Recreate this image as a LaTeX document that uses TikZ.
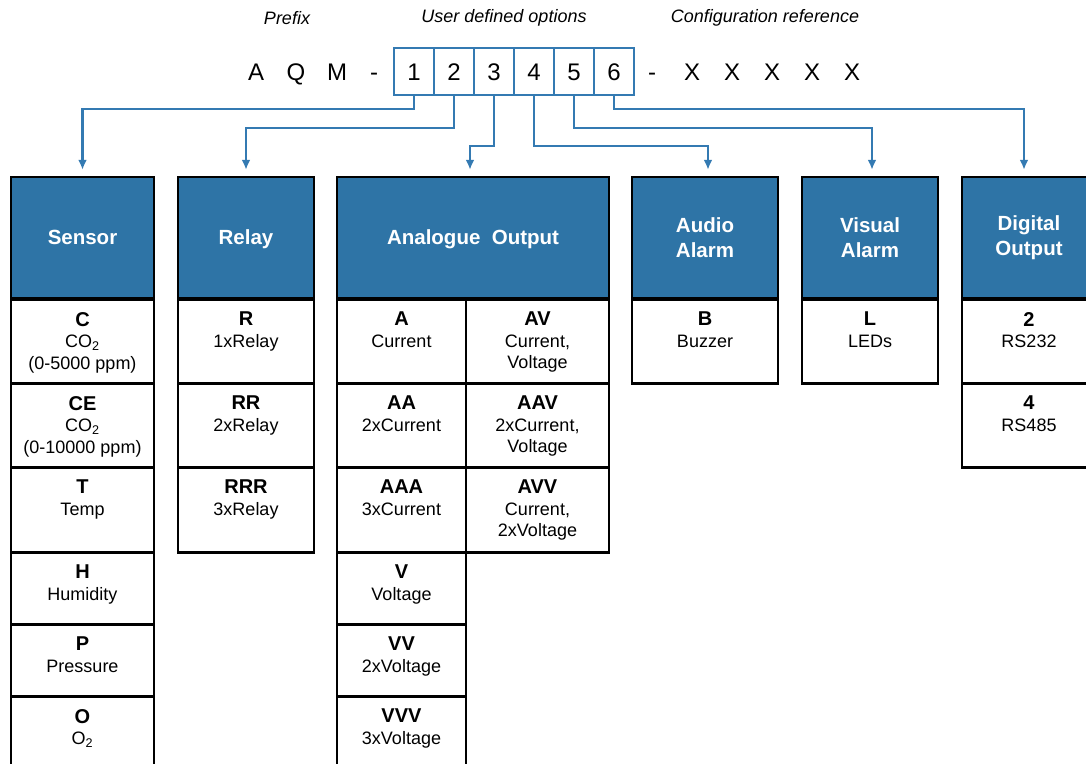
\documentclass[tikz,border=0pt]{standalone}
\usepackage{fontspec}
\setmainfont{Liberation Sans}
\usetikzlibrary{arrows.meta}
\definecolor{hdrblue}{RGB}{46,116,166}
\definecolor{linkblue}{RGB}{52,122,178}
\newcommand{\optcode}[1]{{\fontsize{20}{21.5}\selectfont\bfseries #1}}

\begin{document}
\begin{tikzpicture}[x=1pt, y=-1pt, hdr/.style={draw, line width=2.5pt, fill=hdrblue, text=white, minimum height=121pt, align=center, font=\fontsize{20.5}{25}\selectfont\bfseries}, one/.style={text height=14.7pt, text depth=0pt}, cell/.style={draw, line width=2.5pt, anchor=north}, txt/.style={anchor=north, align=center, inner sep=0pt, yshift=-14pt, font=\fontsize{18}{21.5}\selectfont}, digit/.style={draw=linkblue, line width=2pt, minimum width=40pt, minimum height=47pt, inner sep=0pt, text height=17.2pt, text depth=0pt, font=\fontsize{24}{24}\selectfont}, refchar/.style={inner sep=0pt, text height=17.2pt, text depth=0pt, font=\fontsize{24}{24}\selectfont}, hint/.style={font=\fontsize{18}{18}\selectfont\itshape}, conn/.style={-{Latex[length=10pt,width=9pt]}, draw=linkblue, line width=2.5pt, shorten >=6pt}]
            \useasboundingbox (0,0) rectangle (1086,763);
            % reference code
            \node[hint] (prefix) at (287,18) {Prefix};
            \node[hint] (user) at (504,18) {User defined options};
            \node[hint] (config) at (765,18) {Configuration reference};
            \node[refchar] (pA) at (256,71.5) {A};
            \node[refchar] (pQ) at (296,71.5) {Q};
            \node[refchar] (pM) at (337,71.5) {M};
            \node[refchar] (pdash) at (374,71.5) {-};
            \node[digit] (d1) at (414,71.5) {1};
            \node[digit] (d2) at (454,71.5) {2};
            \node[digit] (d3) at (494,71.5) {3};
            \node[digit] (d4) at (534,71.5) {4};
            \node[digit] (d5) at (574,71.5) {5};
            \node[digit] (d6) at (614,71.5) {6};
            \node[refchar] (sdash) at (652,71.5) {-};
            \node[refchar] (x1) at (692,71.5) {X};
            \node[refchar] (x2) at (732,71.5) {X};
            \node[refchar] (x3) at (772,71.5) {X};
            \node[refchar] (x4) at (812,71.5) {X};
            \node[refchar] (x5) at (852,71.5) {X};
            % headers
            \node[hdr, one, minimum width=143pt] (sensor) at (82.5,237.5) {Sensor};
            \node[hdr, one, minimum width=136pt] (relay) at (246,237.5) {Relay};
            \node[hdr, one, minimum width=272pt] (ao) at (473,237.5) {Analogue\ \ Output};
            \node[hdr, minimum width=146pt] (aa) at (705,237.5) {Audio\\Alarm};
            \node[hdr, minimum width=136pt] (va) at (870,237.5) {Visual\\Alarm};
            \node[hdr, minimum width=134pt] (dout) at (1029,237.5) {Digital\\Output};
            % sensor options
            \node[cell, minimum width=143pt, minimum height=84pt] (sC) at (82.5,298) {};
            \node[txt] (sCt) at (sC.north) {\optcode{C}\\CO\textsubscript{2}\\(0-5000 ppm)};
            \node[cell, minimum width=143pt, minimum height=84pt] (sCE) at (82.5,382) {};
            \node[txt] (sCEt) at (sCE.north) {\optcode{CE}\\CO\textsubscript{2}\\(0-10000 ppm)};
            \node[cell, minimum width=143pt, minimum height=85pt] (sT) at (82.5,466) {};
            \node[txt] (sTt) at (sT.north) {\optcode{T}\\Temp};
            \node[cell, minimum width=143pt, minimum height=72pt] (sH) at (82.5,551) {};
            \node[txt] (sHt) at (sH.north) {\optcode{H}\\Humidity};
            \node[cell, minimum width=143pt, minimum height=72pt] (sP) at (82.5,623) {};
            \node[txt] (sPt) at (sP.north) {\optcode{P}\\Pressure};
            \node[cell, minimum width=143pt, minimum height=76pt] (sO) at (82.5,695) {};
            \node[txt] (sOt) at (sO.north) {\optcode{O}\\O\textsubscript{2}};
            % relay options
            \node[cell, minimum width=136pt, minimum height=84pt] (rR) at (246,298) {};
            \node[txt] (rRt) at (rR.north) {\optcode{R}\\1xRelay};
            \node[cell, minimum width=136pt, minimum height=84pt] (rRR) at (246,382) {};
            \node[txt] (rRRt) at (rRR.north) {\optcode{RR}\\2xRelay};
            \node[cell, minimum width=136pt, minimum height=85pt] (rRRR) at (246,466) {};
            \node[txt] (rRRRt) at (rRRR.north) {\optcode{RRR}\\3xRelay};
            % analogue options
            \node[cell, minimum width=129pt, minimum height=84pt] (aA) at (401.5,298) {};
            \node[txt] (aAt) at (aA.north) {\optcode{A}\\Current};
            \node[cell, minimum width=129pt, minimum height=84pt] (aAA) at (401.5,382) {};
            \node[txt] (aAAt) at (aAA.north) {\optcode{AA}\\2xCurrent};
            \node[cell, minimum width=129pt, minimum height=85pt] (aAAA) at (401.5,466) {};
            \node[txt] (aAAAt) at (aAAA.north) {\optcode{AAA}\\3xCurrent};
            \node[cell, minimum width=129pt, minimum height=72pt] (aV) at (401.5,551) {};
            \node[txt] (aVt) at (aV.north) {\optcode{V}\\Voltage};
            \node[cell, minimum width=129pt, minimum height=72pt] (aVV) at (401.5,623) {};
            \node[txt] (aVVt) at (aVV.north) {\optcode{VV}\\2xVoltage};
            \node[cell, minimum width=129pt, minimum height=76pt] (aVVV) at (401.5,695) {};
            \node[txt] (aVVVt) at (aVVV.north) {\optcode{VVV}\\3xVoltage};
            \node[cell, minimum width=143pt, minimum height=84pt] (aAV) at (537.5,298) {};
            \node[txt] (aAVt) at (aAV.north) {\optcode{AV}\\Current,\\Voltage};
            \node[cell, minimum width=143pt, minimum height=84pt] (aAAV) at (537.5,382) {};
            \node[txt] (aAAVt) at (aAAV.north) {\optcode{AAV}\\2xCurrent,\\Voltage};
            \node[cell, minimum width=143pt, minimum height=85pt] (aAVV) at (537.5,466) {};
            \node[txt] (aAVVt) at (aAVV.north) {\optcode{AVV}\\Current,\\2xVoltage};
            % alarm and digital options
            \node[cell, minimum width=146pt, minimum height=84pt] (bB) at (705,298) {};
            \node[txt] (bBt) at (bB.north) {\optcode{B}\\Buzzer};
            \node[cell, minimum width=136pt, minimum height=84pt] (lL) at (870,298) {};
            \node[txt] (lLt) at (lL.north) {\optcode{L}\\LEDs};
            \node[cell, minimum width=134pt, minimum height=84pt] (o2) at (1029,298) {};
            \node[txt] (o2t) at (o2.north) {\optcode{2}\\RS232};
            \node[cell, minimum width=134pt, minimum height=84pt] (o4) at (1029,382) {};
            \node[txt] (o4t) at (o4.north) {\optcode{4}\\RS485};
            % edges
            \draw[conn] (d1.south) -- ++(0,13) -| (sensor.north);
            \draw[conn] (d2.south) -- ++(0,32) -| (relay.north);
            \draw[conn] (d3.south) -- ++(0,50) -| ([xshift=-3pt]ao.north);
            \draw[conn] (d4.south) -- ++(0,50) -| ([xshift=3pt]aa.north);
            \draw[conn] (d5.south) -- ++(0,32) -| ([xshift=2pt]va.north);
            \draw[conn] (d6.south) -- ++(0,13) -| ([xshift=-5pt]dout.north);
        \end{tikzpicture}
\end{document}
